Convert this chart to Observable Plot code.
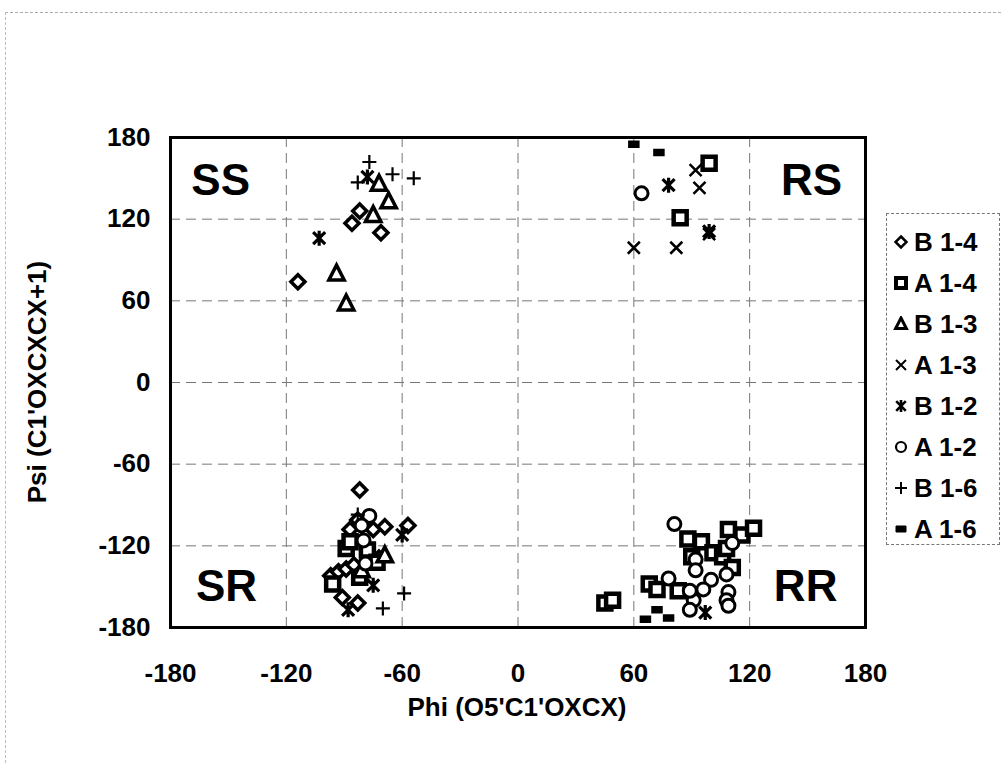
<!DOCTYPE html>
<html><head><meta charset="utf-8">
<script src="https://cdn.jsdelivr.net/npm/d3@7"></script>
<script src="https://cdn.jsdelivr.net/npm/@observablehq/plot@0.6"></script>
<style>
body{margin:0;background:#fff;font-family:"Liberation Sans",Arial,sans-serif;}
#wrap{position:relative;width:1004px;height:763px;overflow:hidden;}
#edge{position:absolute;left:5px;top:12px;width:995px;height:760px;border-top:1px dashed #aaa;border-left:1px dashed #bbb;}
#legend{position:absolute;left:886px;top:213px;width:114px;height:332px;border:1px dashed #777;box-sizing:border-box;background:#fff;}
.item{position:absolute;left:6px;height:30px;display:flex;align-items:center;font-weight:bold;font-size:26px;color:#000;white-space:nowrap;}
.item svg{margin-right:5px;}
.title{position:absolute;font-weight:bold;font-size:26px;text-align:center;color:#000;white-space:nowrap;}
</style></head><body>
<div id="wrap"><div id="edge"></div><div id="chart"></div><div id="legend"></div>
<div class="title" id="xt" style="left:317px;top:692px;width:400px;line-height:30px;">Phi (O5'C1'OXCX)</div>
<div class="title" id="yt" style="left:-163px;top:367px;width:400px;line-height:30px;transform:rotate(-90deg);">Psi (C1'OXCXCX+1)</div>
</div>
<script>
// ---- data: [phi, psi] pairs per series ----
const seriesNames = ["B 1-4","A 1-4","B 1-3","A 1-3","B 1-2","A 1-2","B 1-6","A 1-6"];
const B14 = [[-114,74],[-86,117],[-82,126],[-71,110],
  [-82,-79],[-83,-101],[-87,-108],[-75,-108],[-69,-106],[-57,-105],
  [-97,-142],[-93,-139],[-89,-137],[-85,-134],[-72,-129],[-91,-158],[-83,-162]];
const A14 = [[99,161],[84,121],
  [-89,-122],[-87,-117],[-78,-123],[-96,-148],[-82,-143],[-73,-132],
  [45,-162],[49,-160],[68,-148],[72,-152],[83,-153],[88,-115],[95,-117],[90,-128],
  [101,-125],[106,-128],[109,-108],[116,-112],[122,-107],[111,-136],[108,-122]];
const B13 = [[-94,80],[-89,58],[-75,123],[-67,133],[-72,146],[-69,-127],[-81,-138]];
const A13 = [[92,156],[94,143],[60,99],[82,99],[99,109]];
const B12 = [[-103,106],[-78,151],[78,145],[99,111],[-60,-112],[-75,-149],[-88,-167],[97,-169]];
const A12 = [[64,139],[-77,-98],[-81,-105],[-80,-116],[-79,-133],
  [81,-104],[111,-118],[92,-130],[92,-138],[108,-141],[100,-145],[96,-152],[109,-154],
  [108,-160],[109,-164],[91,-160],[89,-167],[78,-144],[89,-153]];
const B16 = [[-77,162],[-83,147],[-65,153],[-54,150],[-70,-166],[-59,-155],[-83,-97]];
const A16 = [[60,175],[73,169],[66,-174],[72,-167],[78,-173]];
const axisTicks = [-180,-120,-60,0,60,120,180];
const gridTicks = [-120,-60,0,60,120];
const quadLabels = ["SS","RS","SR","RR"];
const quadPhi = [-154,152,-151,149];
const quadPsi = [148,148,-150,-150];

// ---- symbols ----
const mk = f => ({draw(ctx, size){ f(ctx, Math.sqrt(size/Math.PI)); }});
const symDiamond = mk((c,r)=>{c.moveTo(0,-r);c.lineTo(r,0);c.lineTo(0,r);c.lineTo(-r,0);c.closePath();});
const symSquare = mk((c,r)=>{c.rect(-r,-r,2*r,2*r);});
const symTri = mk((c,r)=>{c.moveTo(0,-r);c.lineTo(r*0.9,r*0.75);c.lineTo(-r*0.9,r*0.75);c.closePath();});
const symTimes = mk((c,r)=>{c.moveTo(-r,-r);c.lineTo(r,r);c.moveTo(-r,r);c.lineTo(r,-r);});
const symAst = mk((c,r)=>{c.moveTo(-r*0.8,-r*0.8);c.lineTo(r*0.8,r*0.8);c.moveTo(-r*0.8,r*0.8);c.lineTo(r*0.8,-r*0.8);c.moveTo(0,-r);c.lineTo(0,r);});
const symCircle = mk((c,r)=>{c.moveTo(r,0);c.arc(0,0,r,0,2*Math.PI);});
const symPlus = mk((c,r)=>{c.moveTo(-r,0);c.lineTo(r,0);c.moveTo(0,-r);c.lineTo(0,r);});
const symBar = mk((c,r)=>{c.rect(-r,-r*0.6,2*r,r*1.2);});

const allData = [B14,A14,B13,A13,B12,A12,B16,A16];
const styles = [
  {symbol:symDiamond,r:7,fill:"white",stroke:"black",strokeWidth:3.5, lr:5.5, lw:2.5},
  {symbol:symSquare,r:6.5,fill:"white",stroke:"black",strokeWidth:4.5, lr:5, lw:4},
  {symbol:symTri,r:8.5,fill:"white",stroke:"black",strokeWidth:3.5, lr:6, lw:3},
  {symbol:symTimes,r:6,fill:"none",stroke:"black",strokeWidth:2.5, lr:5, lw:2},
  {symbol:symAst,r:7.5,fill:"none",stroke:"black",strokeWidth:3.2, lr:6, lw:2.6},
  {symbol:symCircle,r:6.5,fill:"white",stroke:"black",strokeWidth:3, lr:5, lw:2.2},
  {symbol:symPlus,r:7,fill:"none",stroke:"black",strokeWidth:2.2, lr:6, lw:2},
  {symbol:symBar,r:5,fill:"black",stroke:"black",strokeWidth:1.5, lr:5, lw:1}
];

const dotMarks = allData.map((d,i)=>{
  const s = styles[i];
  return Plot.dot(d, {x: p=>p[0], y: p=>p[1], symbol: s.symbol, r: s.r, fill: s.fill, stroke: s.stroke, strokeWidth: s.strokeWidth});
});

const quads = quadLabels.map((t,i)=>({t, x:quadPhi[i], y:quadPsi[i]}));

const chart = Plot.plot({
  width: 1004, height: 763,
  marginLeft: 170, marginRight: 139, marginTop: 137, marginBottom: 136,
  style: {fontFamily: '"Liberation Sans", Arial, sans-serif', background: "transparent", color: "black"},
  x: {domain: [-180,180]},
  y: {domain: [-180,180]},
  marks: [
    Plot.gridX(gridTicks, {stroke:"#777", strokeOpacity:1, strokeWidth:1, strokeDasharray:"10,6"}),
    Plot.gridY(gridTicks, {stroke:"#777", strokeOpacity:1, strokeWidth:1, strokeDasharray:"10,6"}),
    Plot.axisX(axisTicks, {tickSize:0, tickPadding:36, fontSize:26, fontWeight:"bold", label:null, tickFormat:d=>String(d)}),
    Plot.axisY(axisTicks, {tickSize:0, tickPadding:20, fontSize:26, fontWeight:"bold", label:null, tickFormat:d=>String(d)}),
    Plot.text(quads, {x:"x", y:"y", text:"t", fontSize:44, fontWeight:"bold", fill:"black"}),
    ...dotMarks,
    Plot.frame({stroke:"black", strokeWidth:3})
  ]
});
document.getElementById("chart").appendChild(chart);

// ---- legend ----
const leg = document.getElementById("legend");
seriesNames.forEach((name,i)=>{
  const s = styles[i];
  const p = d3.path();
  s.symbol.draw(p, Math.PI*s.lr*s.lr);
  const div = document.createElement("div");
  div.className = "item";
  div.style.top = (13 + i*41) + "px";
  div.innerHTML = `<svg width="16" height="16" viewBox="-8 -8 16 16"><path d="${p.toString()}" fill="${s.fill}" stroke="${s.stroke}" stroke-width="${s.lw}"/></svg><span></span>`;
  div.querySelector("span").textContent = name;
  leg.appendChild(div);
});
</script>
</body></html>
